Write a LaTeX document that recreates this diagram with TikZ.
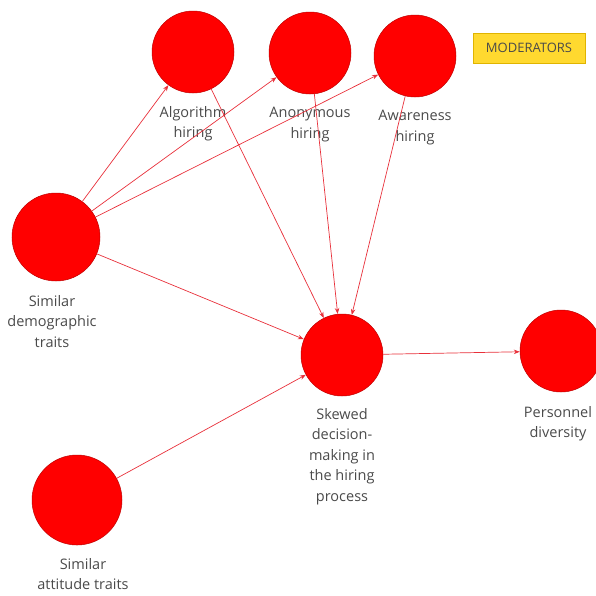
\documentclass[tikz,border=0pt]{standalone}
\usepackage{fontspec}
\setmainfont{Open Sans}
\usetikzlibrary{positioning,arrows.meta}

\definecolor{textgray}{HTML}{4A4A4A}
\definecolor{linkred}{HTML}{E8303A}
\definecolor{tagyellow}{HTML}{FFD92F}
\definecolor{tagborder}{HTML}{E0B400}

\begin{document}
\begin{tikzpicture}[
    x=1pt, y=-1pt,
    factor/.style={draw=red!75!black, fill=red, circle, minimum size=82pt, inner sep=0pt, line width=0.5pt},
    caption/.style={align=center, text=textgray, inner sep=0pt, font=\fontsize{14.5}{20.5}\selectfont},
    link/.style={draw=linkred, line width=0.7pt, -{Stealth[length=6pt,width=4.5pt]}},
    tagbox/.style={draw=tagborder, fill=tagyellow, minimum width=112pt, minimum height=30pt, text=textgray, font=\fontsize{13}{15}\selectfont}
]
\useasboundingbox (0,0) rectangle (596,595);

% factors
\node[factor] (algo) at (193,52) {};
\node[factor] (anon) at (310,53) {};
\node[factor] (aware) at (415,56) {};
\node[factor, minimum size=88pt] (demog) at (56,237) {};
\node[factor, minimum size=90pt] (attit) at (77,500) {};
\node[factor] (skew) at (342,355) {};
\node[factor] (pers) at (561,351) {};

% captions
\node[caption, below=13pt of algo] (algo-t) {Algorithm\\hiring};
\node[caption, below=13pt of anon] (anon-t) {Anonymous\\hiring};
\node[caption, below=13pt of aware] (aware-t) {Awareness\\hiring};
\node[caption, below=14pt of demog, xshift=-4pt] (demog-t) {Similar\\demographic\\traits};
\node[caption, below=13pt of attit, xshift=6pt] (attit-t) {Similar\\attitude traits};
\node[caption, below=12pt of skew] (skew-t) {Skewed\\decision-\\making in\\the hiring\\process};
\node[caption, below=14pt of pers, xshift=-3pt] (pers-t) {Personnel\\diversity};

\node[tagbox] (mod) at (529,48) {MODERATORS};

% links
\draw[link] (demog) -- (algo);
\draw[link] (demog) -- (anon);
\draw[link] (demog) -- (aware);
\draw[link] (demog) -- (skew);
\draw[link] (algo) -- (skew);
\draw[link] (anon) -- (skew);
\draw[link] (aware) -- (skew);
\draw[link] (attit) -- (skew);
\draw[link] (skew) -- (pers);
\end{tikzpicture}
\end{document}
